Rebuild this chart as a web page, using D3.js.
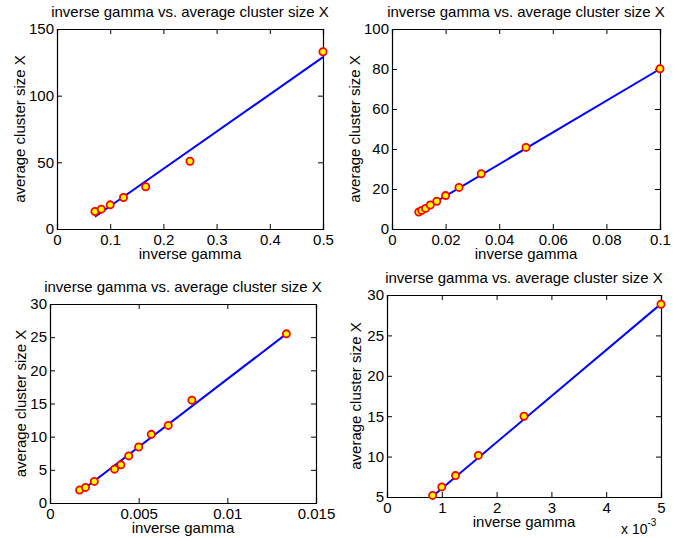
<!DOCTYPE html>
<html>
<head>
<meta charset="utf-8">
<script src="https://cdn.jsdelivr.net/npm/d3@7"></script>
<style>
  body { margin: 0; background: #fff; }
  svg { display: block; }
  text { font-family: "Liberation Sans", Arial, Helvetica, sans-serif; fill: #000; }
</style>
</head>
<body>
<svg id="chart" width="678" height="538"></svg>
<script>
var titleText = 'inverse gamma vs. average cluster size X'
  , xLabelText = 'inverse gamma'
  , yLabelText = 'average cluster size X'

// panel 1 (top left)
var p1X = [0.0714, 0.0833, 0.1, 0.125, 0.1667, 0.25, 0.5]
  , p1Y = [13.1, 14.9, 18.1, 23.6, 31.7, 50.8, 132.9]
  , p1FitX = [0.0714, 0.5]
  , p1FitY = [9.2, 128.9]
  , p1XTicks = [0, 0.1, 0.2, 0.3, 0.4, 0.5]
  , p1YTicks = [0, 50, 100, 150]

// panel 2 (top right)
var p2X = [0.01, 0.0111, 0.0125, 0.0143, 0.0167, 0.02, 0.025, 0.0333, 0.05, 0.1]
  , p2Y = [8.5, 9.3, 10.3, 12.0, 13.9, 16.7, 20.8, 27.6, 40.8, 80.1]
  , p2FitX = [0.01, 0.1]
  , p2FitY = [8.6, 80.0]
  , p2XTicks = [0, 0.02, 0.04, 0.06, 0.08, 0.1]
  , p2YTicks = [0, 20, 40, 60, 80, 100]

// panel 3 (bottom left)
var p3X = [0.00167, 0.002, 0.0025, 0.00364, 0.004, 0.00444, 0.005, 0.00571, 0.00667, 0.008, 0.01333]
  , p3Y = [1.95, 2.35, 3.25, 5.1, 5.75, 7.1, 8.45, 10.35, 11.7, 15.5, 25.5]
  , p3FitX = [0.002, 0.01333]
  , p3FitY = [2.3, 25.5]
  , p3XTicks = [0, 0.005, 0.01, 0.015]
  , p3YTicks = [0, 5, 10, 15, 20, 25, 30]

// panel 4 (bottom right)
var p4X = [0.000833, 0.001, 0.00125, 0.001667, 0.0025, 0.005]
  , p4Y = [5.2, 6.25, 7.65, 10.15, 15.0, 28.85]
  , p4FitX = [0.000833, 0.005]
  , p4FitY = [5.1, 28.9]
  , p4XTicks = [0, 0.001, 0.002, 0.003, 0.004, 0.005]
  , p4YTicks = [5, 10, 15, 20, 25, 30]

var svg = d3.select('#chart')
  , fontSize = 15

var drawPanel = function(cfg) {
  var g = svg.append('g')
  var x = d3.scaleLinear().domain(cfg.xDomain).range([cfg.left, cfg.right])
    , y = d3.scaleLinear().domain(cfg.yDomain).range([cfg.bottom, cfg.top])
    , tickLen = 5
    , fmt = cfg.xFormat || function(d) { return String(d) }

  // axes, matlab style ticks pointing in on all four sides
  g.append('g').attr('transform', 'translate(0,' + cfg.bottom + ')')
    .call(d3.axisBottom(x).tickValues(cfg.xTicks).tickSize(-tickLen).tickPadding(5).tickFormat(fmt))
  g.append('g').attr('transform', 'translate(0,' + cfg.top + ')')
    .call(d3.axisTop(x).tickValues(cfg.xTicks).tickSize(-tickLen).tickFormat(''))
  g.append('g').attr('transform', 'translate(' + cfg.left + ',0)')
    .call(d3.axisLeft(y).tickValues(cfg.yTicks).tickSize(-tickLen).tickPadding(3).tickFormat(function(d) { return String(d) }))
  g.append('g').attr('transform', 'translate(' + cfg.right + ',0)')
    .call(d3.axisRight(y).tickValues(cfg.yTicks).tickSize(-tickLen).tickFormat(''))

  g.selectAll('.domain').attr('stroke', '#000').attr('stroke-width', 1.2)
  g.selectAll('.tick line').attr('stroke', '#000').attr('stroke-width', 1)
  g.selectAll('.tick text').attr('font-size', fontSize).attr('font-family', '"Liberation Sans", Arial, sans-serif').attr('fill', '#000')

  // fit line
  var line = d3.line().x(function(d) { return x(d[0]) }).y(function(d) { return y(d[1]) })
  g.append('path').datum(d3.zip(cfg.fitX, cfg.fitY))
    .attr('d', line).attr('fill', 'none').attr('stroke', '#0000ff').attr('stroke-width', 2)

  // data points
  g.selectAll('circle.pt').data(d3.zip(cfg.xs, cfg.ys))
    .enter().append('circle').attr('class', 'pt')
    .attr('cx', function(d) { return x(d[0]) })
    .attr('cy', function(d) { return y(d[1]) })
    .attr('r', 3.6)
    .attr('fill', '#ffff00').attr('stroke', '#ff0000').attr('stroke-width', 1.8)

  var cx = (cfg.left + cfg.right) / 2
  g.append('text').attr('x', cx).attr('y', cfg.top - 12).attr('text-anchor', 'middle')
    .attr('font-size', fontSize).text(titleText)
  g.append('text').attr('x', cx).attr('y', cfg.bottom + 30).attr('text-anchor', 'middle')
    .attr('font-size', fontSize).text(xLabelText)
  g.append('text')
    .attr('transform', 'translate(' + cfg.yLabelX + ',' + ((cfg.top + cfg.bottom) / 2) + ') rotate(-90)')
    .attr('text-anchor', 'middle').attr('dy', '0.35em')
    .attr('font-size', fontSize).text(yLabelText)

  if (cfg.exponent) {
    var ex = g.append('text').attr('x', cfg.right - 40).attr('y', cfg.bottom + 37).attr('font-size', 14)
    ex.append('tspan').text('x 10')
    ex.append('tspan').attr('dy', -8).attr('font-size', 10).text(cfg.exponent)
  }
}

drawPanel({ left: 57, right: 323, top: 29, bottom: 229, yLabelX: 20,
  xDomain: [0, 0.5], yDomain: [0, 150], xTicks: p1XTicks, yTicks: p1YTicks,
  xs: p1X, ys: p1Y, fitX: p1FitX, fitY: p1FitY })

drawPanel({ left: 392, right: 660, top: 29, bottom: 229, yLabelX: 355,
  xDomain: [0, 0.1], yDomain: [0, 100], xTicks: p2XTicks, yTicks: p2YTicks,
  xs: p2X, ys: p2Y, fitX: p2FitX, fitY: p2FitY })

drawPanel({ left: 50, right: 316, top: 304, bottom: 503, yLabelX: 21,
  xDomain: [0, 0.015], yDomain: [0, 30], xTicks: p3XTicks, yTicks: p3YTicks,
  xs: p3X, ys: p3Y, fitX: p3FitX, fitY: p3FitY })

drawPanel({ left: 387, right: 661, top: 295, bottom: 497, yLabelX: 356,
  xDomain: [0, 0.005], yDomain: [5, 30], xTicks: p4XTicks, yTicks: p4YTicks,
  xs: p4X, ys: p4Y, fitX: p4FitX, fitY: p4FitY,
  xFormat: function(d) { return String(Math.round(d * 1000)) }, exponent: '-3' })
</script>
</body>
</html>
